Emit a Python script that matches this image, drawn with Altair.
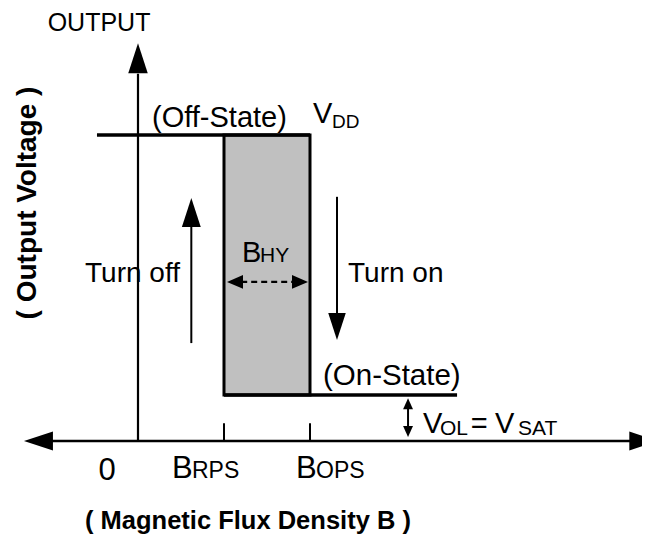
import altair as alt
import pandas as pd

FONT = "Liberation Sans"

# ---- diagram values (B in units of the switching points, output in volts-like units) ----
B_RPS = 1.0
B_OPS = 2.0
V_DD = 5.0
V_SAT = 0.75

# segment endpoints (data units)
seg_x = [-1.0, 0.0, -0.477, 1.0, B_RPS, B_OPS, 0.62, 2.314, 3.14]
seg_x2 = [5.8, 0.0, B_OPS, 3.71, B_RPS, B_OPS, 0.62, 2.314, 3.14]
seg_y = [0.0, 0.0, V_DD, V_SAT, 0.0, 0.0, 1.60, 3.99, 0.62]
seg_y2 = [0.0, 6.0, V_DD, V_SAT, 0.29, 0.29, 3.5, 2.09, 0.15]
seg_w = [2.5, 2.2, 3.5, 3.5, 2.0, 2.0, 2.0, 2.0, 2.0]

# dashed B_HY line
dash_x = [1.2]
dash_x2 = [1.8]
dash_y = [2.6]

# arrow heads: tip positions and direction (0 up, 90 right, 180 down, 270 left)
big_head_x = [-1.326, 6.05, 0.0, 0.62, 2.314]
big_head_y = [0.0, 0.0, 6.5, 3.97, 1.65]
big_head_angle = [270, 90, 0, 0, 180]
big_head_size = [841, 841, 900, 841, 729]

mid_head_x = [1.035, 1.977]
mid_head_y = [2.6, 2.6]
mid_head_angle = [270, 90]

small_head_x = [3.14, 3.14]
small_head_y = [0.70, 0.065]
small_head_angle = [0, 180]

# texts
lt_text = ["(Off-State)", "V", "DD", "B", "HY", "Turn off", "Turn on", "(On-State)",
           "V", "OL", "=", "V", "SAT", "B", "RPS", "B", "OPS"]
lt_x = [0.163, 2.035, 2.256, 1.209, 1.419, -0.616, 2.442, 2.151,
        3.314, 3.512, 3.87, 4.15, 4.42, 0.395, 0.628, 1.837, 2.07]
lt_y = [5.13, 5.196, 5.114, 2.925, 2.925, 2.598, 2.598, 0.915,
        0.131, 0.098, 0.131, 0.131, 0.098, -0.605, -0.605, -0.605, -0.605]
lt_size = [29, 29, 19, 29, 21, 28, 28, 29.5,
           29, 21, 29, 29, 21, 31, 23, 31, 23]

ct_text = ["OUTPUT", "0"]
ct_x = [-0.453, -0.36]
ct_y = [6.70, -0.637]
ct_size = [25, 31]

xtitle = ["( Magnetic Flux Density B )"]
xtitle_x = [-0.616]
xtitle_y = [-1.43]

ytitle = ["( Output Voltage )"]
ytitle_x = [-1.186]
ytitle_y = [3.889]

# ---- scales (chart fits the 634x527 area inside the page margin) ----
xs = alt.Scale(domain=[-1.5116, 5.8605], nice=False, zero=False)
ys = alt.Scale(domain=[-1.5359, 7.0752], nice=False, zero=False)

def X(f="x"):
    return alt.X(f, type="quantitative", scale=xs, axis=None)

def Y(f="y"):
    return alt.Y(f, type="quantitative", scale=ys, axis=None)

segs = pd.DataFrame({"x": seg_x, "x2": seg_x2, "y": seg_y, "y2": seg_y2, "w": seg_w})
rect_df = pd.DataFrame({"x": [B_RPS], "x2": [B_OPS], "y": [V_SAT], "y2": [V_DD]})
dash_df = pd.DataFrame({"x": dash_x, "x2": dash_x2, "y": dash_y})
big_df = pd.DataFrame({"x": big_head_x, "y": big_head_y, "a": big_head_angle, "s": big_head_size})
mid_df = pd.DataFrame({"x": mid_head_x, "y": mid_head_y, "a": mid_head_angle})
small_df = pd.DataFrame({"x": small_head_x, "y": small_head_y, "a": small_head_angle})
lt_df = pd.DataFrame({"t": lt_text, "x": lt_x, "y": lt_y, "s": lt_size})
ct_df = pd.DataFrame({"t": ct_text, "x": ct_x, "y": ct_y, "s": ct_size})
xt_df = pd.DataFrame({"t": xtitle, "x": xtitle_x, "y": xtitle_y})
yt_df = pd.DataFrame({"t": ytitle, "x": ytitle_x, "y": ytitle_y})

rect = alt.Chart(rect_df).mark_rect(fill="#c0c0c0", stroke="black", strokeWidth=3).encode(
    x=X(), x2="x2", y=Y(), y2="y2")

lines = alt.Chart(segs).mark_rule(color="black").encode(
    x=X(), x2="x2", y=Y(), y2="y2",
    strokeWidth=alt.StrokeWidth("w:Q", scale=None))

dashed = alt.Chart(dash_df).mark_rule(color="black", strokeWidth=2.2, strokeDash=[6, 4]).encode(
    x=X(), x2="x2", y=Y())

big_heads = alt.Chart(big_df).mark_point(
    shape="M0,0L0.65,2L-0.65,2Z", filled=True, color="black", opacity=1, strokeWidth=0).encode(
    x=X(), y=Y(), angle=alt.Angle("a:Q", scale=None), size=alt.Size("s:Q", scale=None))

mid_heads = alt.Chart(mid_df).mark_point(
    shape="M0,0L0.85,2L-0.85,2Z", filled=True, color="black", opacity=1, strokeWidth=0, size=256).encode(
    x=X(), y=Y(), angle=alt.Angle("a:Q", scale=None))

small_heads = alt.Chart(small_df).mark_point(
    shape="M0,0L0.9,2L-0.9,2Z", filled=True, color="black", opacity=1, strokeWidth=0, size=121).encode(
    x=X(), y=Y(), angle=alt.Angle("a:Q", scale=None))

left_text = alt.Chart(lt_df).mark_text(
    align="left", baseline="alphabetic", font=FONT, color="black").encode(
    x=X(), y=Y(), text="t:N", size=alt.Size("s:Q", scale=None))

center_text = alt.Chart(ct_df).mark_text(
    align="center", baseline="alphabetic", font=FONT, color="black").encode(
    x=X(), y=Y(), text="t:N", size=alt.Size("s:Q", scale=None))

x_title = alt.Chart(xt_df).mark_text(
    align="left", baseline="alphabetic", font=FONT, fontWeight="bold", fontSize=25.5, color="black").encode(
    x=X(), y=Y(), text="t:N")

y_title = alt.Chart(yt_df).mark_text(
    align="center", baseline="alphabetic", font=FONT, fontWeight="bold", fontSize=28, angle=270,
    color="black").encode(
    x=X(), y=Y(), text="t:N")

chart = alt.layer(
    rect, lines, dashed, big_heads, mid_heads, small_heads,
    left_text, center_text, x_title, y_title
).properties(
    width=634, height=527, padding=0,
    autosize=alt.AutoSizeParams(type="none"),
    background="white",
).configure_view(stroke=None)

chart.save("out.html", embed_options={"renderer": "svg", "actions": False})
